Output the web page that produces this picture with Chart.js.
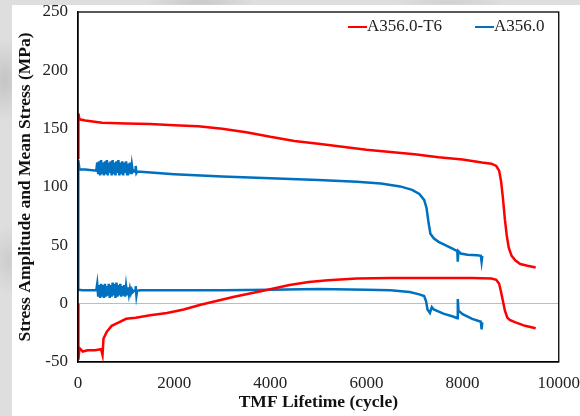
<!DOCTYPE html>
<html>
<head>
<meta charset="utf-8">
<script src="https://cdn.jsdelivr.net/npm/chart.js@4.4.1/dist/chart.umd.min.js"></script>
<style>
  html, body { margin: 0; padding: 0; }
  body {
    width: 580px; height: 416px; overflow: hidden;
    background-color: #dedede;
    background-image:
      radial-gradient(ellipse 30px 60px at 5px 80px, rgba(190,190,190,0.8), rgba(190,190,190,0) 70%),
      radial-gradient(ellipse 25px 50px at 8px 260px, rgba(200,200,200,0.8), rgba(200,200,200,0) 70%),
      radial-gradient(ellipse 80px 10px at 200px 2px, rgba(195,195,195,0.8), rgba(195,195,195,0) 70%),
      radial-gradient(ellipse 80px 10px at 450px 2px, rgba(205,205,205,0.8), rgba(205,205,205,0) 70%);
  }
  #wrap { position: absolute; left: 0; top: 0; width: 580px; height: 416px; }
</style>
</head>
<body>
<div id="wrap"><canvas id="c" width="580" height="416"></canvas></div>
<script>
// ---- data (cycle, MPa) ----
const seriesNames = ["A356.0-T6", "A356.0"];
const xTicks = [0, 2000, 4000, 6000, 8000, 10000];
const yTicks = [-50, 0, 50, 100, 150, 200, 250];

// A356.0-T6 stress amplitude
const t6Amplitude = [
  [0,125],[8,163],[30,158],[150,157],[500,155],[1000,154.5],[1500,154],[2000,153],
  [2500,152],[3000,150],[3500,147],[4000,143],[4500,139.5],[5000,137],[5500,134.5],
  [6000,132],[6500,130],[7000,128],[7500,125.5],[8000,123.5],[8400,121],[8600,120],
  [8700,118],[8760,114],[8800,105],[8840,90],[8880,72],[8920,58],[8960,48],[9020,41],
  [9100,37],[9200,34],[9350,32.5],[9520,31]
];
// A356.0-T6 mean stress
const t6Mean = [
  [0,0],[8,-48],[30,-38],[100,-41],[200,-40],[350,-40],[480,-39],[510,-44],[530,-30],
  [600,-24],[700,-19],[850,-16],[1000,-13],[1200,-12],[1500,-10],[1850,-8],[2200,-5],
  [2550,-1],[2900,2.5],[3250,6],[3600,9],[3950,12],[4400,16],[4800,18.5],[5200,20],
  [5800,21.5],[6500,22],[7500,22],[8200,22],[8600,21.5],[8700,20.5],[8760,17],[8800,10],
  [8840,2],[8880,-6],[8930,-12],[8980,-14],[9100,-16],[9300,-19],[9520,-21]
];
// A356.0 stress amplitude
const asAmplitude = [
  [0,12],[6,123],[30,115],[150,115],[380,114],
  [400,121],[420,111],[440,122],[460,110],[480,123],[500,112],[520,121],[540,110],[560,122],
  [580,111],[600,123],[620,110],[640,121],[660,112],[680,122],[700,110],[720,123],[740,111],
  [760,121],[780,110],[800,122],[820,112],[840,123],[860,110],[880,121],[900,111],[920,122],
  [940,110],[960,121],[980,112],[1000,122],[1020,111],[1040,120],[1060,112],[1080,121],
  [1100,111],[1120,119],[1140,113],[1160,114],[1190,113],[1200,118],[1215,112],[1230,113],
  [1300,113],[2000,111],[3000,109],[4000,107.5],[5000,106],[5800,104.5],[6300,103],
  [6700,100.5],[6950,97.5],[7100,94],[7200,89],[7250,82],[7290,70],[7330,60],[7400,56],
  [7500,53],[7650,50],[7800,47],[7890,45],[7900,36],[7910,45],[7960,43],[8100,42],
  [8300,41.5],[8380,41],[8395,36],[8410,41]
];
// A356.0 mean stress
const asMean = [
  [0,12],[100,11.5],[380,11.5],
  [400,17],[420,6],[440,16],[460,5],[480,17],[500,7],[520,16],[540,5],[560,17],[580,6],
  [600,15],[620,7],[640,17],[660,5],[680,16],[700,6],[720,18],[740,7],[760,17],[780,5],
  [800,18],[820,6],[840,16],[860,7],[880,17],[900,6],[920,15],[940,7],[960,16],[980,6],
  [1000,15],[1020,8],[1040,14],[1060,8],[1080,13],[1100,9],[1120,12],[1140,10],[1160,11],
  [1190,11],[1200,15],[1215,7],[1230,11],
  [1300,11.5],[2000,11.5],[3000,11.5],[4000,12],[5000,12.5],[6000,12],[6500,11.5],
  [6900,10],[7100,8],[7200,6.5],[7240,2],[7270,-5],[7320,-8],[7360,-3],[7400,-5],
  [7600,-8.5],[7800,-11],[7890,-12.5],[7900,4],[7915,-6],[8000,-9],[8200,-13],
  [8380,-15.5],[8395,-22],[8410,-16]
];

const RED = '#ff0000';
const BLUE = '#0070c0';
const FONT = "'Liberation Serif', 'DejaVu Serif', serif";

const toPts = a => a.map(p => ({x: p[0], y: p[1]}));

const backgroundPlugin = {
  id: 'bg',
  beforeDraw(chart) {
    const {ctx} = chart;
    ctx.save();
    ctx.fillStyle = '#ffffff';
    ctx.fillRect(12, 5, 580 - 12, 416 - 5);
    ctx.restore();
  },
  afterDatasetsDraw(chart) {
    const {ctx, chartArea: a} = chart;
    ctx.save();
    ctx.strokeStyle = '#000000';
    ctx.lineWidth = 1.3;
    ctx.strokeRect(a.left, a.top, a.right - a.left, a.bottom - a.top);
    // legend
    const items = [
      {label: seriesNames[0], color: RED, x: 348},
      {label: seriesNames[1], color: BLUE, x: 475}
    ];
    ctx.font = "17px " + FONT;
    ctx.textBaseline = 'middle';
    ctx.textAlign = 'left';
    items.forEach(it => {
      ctx.strokeStyle = it.color;
      ctx.lineWidth = 2;
      ctx.beginPath();
      ctx.moveTo(it.x, 27);
      ctx.lineTo(it.x + 19, 27);
      ctx.stroke();
      ctx.fillStyle = '#222222';
      ctx.fillText(it.label, it.x + 19, 27);
    });
    ctx.restore();
  }
};

const ds = (label, data, color) => ({
  label, data: toPts(data), borderColor: color, backgroundColor: color,
  borderWidth: 2.5, pointRadius: 0, tension: 0, fill: false
});

new Chart(document.getElementById('c'), {
  type: 'line',
  data: {
    datasets: [
      ds(seriesNames[0], t6Amplitude, RED),
      ds(seriesNames[0], t6Mean, RED),
      ds(seriesNames[1], asAmplitude, BLUE),
      ds(seriesNames[1], asMean, BLUE)
    ]
  },
  options: {
    responsive: false,
    animation: false,
    layout: { padding: { top: 12, right: 0, bottom: 0, left: 0 } },
    plugins: { legend: { display: false }, tooltip: { enabled: false } },
    scales: {
      x: {
        type: 'linear', min: 0, max: 10000,
        afterBuildTicks: s => { s.ticks = xTicks.map(v => ({value: v})); },
        afterFit: s => { s.height = 54; },
        grid: { display: false, drawTicks: true, tickLength: 11 },
        border: { display: true, color: '#000', width: 1.3 },
        ticks: { padding: 0, color: '#222', font: { family: FONT, size: 17 }, maxRotation: 0,
                 callback: v => String(v) },
        title: { display: true, text: 'TMF Lifetime (cycle)', color: '#111',
                 font: { family: FONT, size: 17.5, weight: 'bold' }, padding: { top: 0, bottom: 3.5 } }
      },
      y: {
        type: 'linear', min: -50, max: 250,
        afterBuildTicks: s => { s.ticks = yTicks.map(v => ({value: v})); },
        afterFit: s => { s.width = 78; },
        grid: { drawTicks: true, tickLength: 10, tickColor: 'rgba(0,0,0,0)',
                color: c => (c.tick && c.tick.value === 0) ? '#bdbdbd' : 'rgba(0,0,0,0)', lineWidth: 1 },
        border: { display: true, color: '#000', width: 1.3 },
        ticks: { padding: 0, color: '#222', font: { family: FONT, size: 17 }, callback: v => String(v) },
        title: { display: true, text: 'Stress Amplitude and Mean Stress (MPa)', color: '#111',
                 font: { family: FONT, size: 17.5, weight: 'bold' }, padding: { top: 14.5, bottom: 0 } }
      }
    }
  },
  plugins: [backgroundPlugin]
});
</script>
</body>
</html>
